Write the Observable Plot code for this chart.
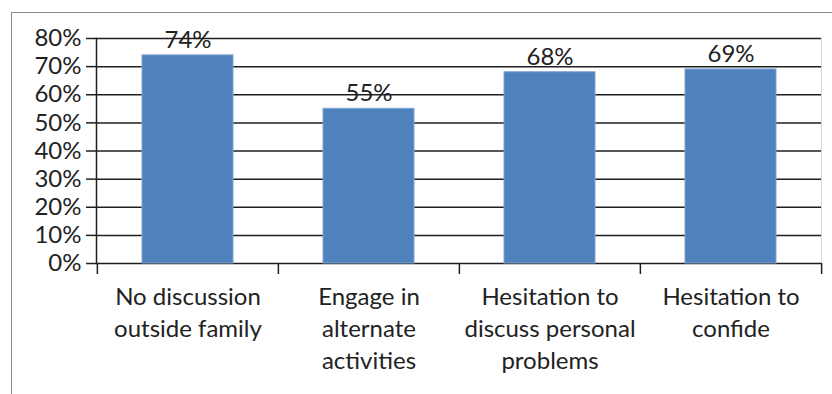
<!DOCTYPE html>
<html>
<head>
<meta charset="utf-8">
<script src="https://cdn.jsdelivr.net/npm/d3@7"></script>
<script src="https://cdn.jsdelivr.net/npm/@observablehq/plot@0.6"></script>
<style>
  body { margin: 0; background: #fff; }
  #chart { position: relative; width: 832px; height: 394px; overflow: hidden; background: #fff; }
  #chart .edge {
    position: absolute; left: 11px; top: 12px; width: 900px; height: 500px;
    border-left: 1px solid #8a8a8a; border-top: 1px solid #8a8a8a;
  }
  #chart svg { position: absolute; left: 0; top: 0; }
</style>
</head>
<body>
<div id="chart"><div class="edge"></div></div>
<script>
// Survey responses: share of respondents per coping behaviour
const categories = [
  "No discussion\noutside family",
  "Engage in\nalternate\nactivities",
  "Hesitation to\ndiscuss personal\nproblems",
  "Hesitation to\nconfide"
];
const values = [74, 55, 68, 69];
const yTicks = [0, 10, 20, 30, 40, 50, 60, 70, 80];

const rows = categories.map((category, i) => ({category, value: values[i]}));

const W = 832, H = 394;
const margin = {left: 96, right: 11, top: 38, bottom: 131};
const step = (W - margin.left - margin.right) / categories.length;
const ink = "#1f1f1f";
const textInk = "#222";
const fontSize = 24;

const chart = Plot.plot({
  width: W,
  height: H,
  marginLeft: margin.left,
  marginRight: margin.right,
  marginTop: margin.top,
  marginBottom: margin.bottom,
  style: {
    fontFamily: "Lato, 'Open Sans', sans-serif",
    fontSize: `${fontSize}px`,
    color: textInk,
    background: "transparent",
    overflow: "visible"
  },
  x: {domain: categories, paddingInner: 0.5, paddingOuter: 0.25, label: null},
  y: {domain: [0, 80], label: null},
  marks: [
    // horizontal gridlines behind the bars
    Plot.gridY(yTicks, {stroke: ink, strokeOpacity: 1, strokeWidth: 1.5}),
    Plot.frame({anchor: "right", stroke: "#d9d9d9"}),
    Plot.frame({anchor: "left", stroke: ink, strokeWidth: 1.5}),
    Plot.barY(rows, {x: "category", y: "value", fill: "#4f81bd", stroke: "#7ea3d3", strokeWidth: 1}),
    Plot.axisY(yTicks, {
      tickSize: 10, tickPadding: 5, tickFormat: d => `${d}%`,
      stroke: ink, strokeWidth: 1.5, fontSize, fill: textInk, label: null
    }),
    // category separators hanging below the baseline
    Plot.ruleX(categories, {x: d => d, y1: 0, y2: 0, dx: -step / 2, insetBottom: -11, stroke: ink, strokeWidth: 1.5}),
    Plot.ruleX(categories.slice(-1), {x: d => d, y1: 0, y2: 0, dx: step / 2, insetBottom: -11, stroke: ink, strokeWidth: 1.5}),
    Plot.axisX({tickSize: 0, tickPadding: 18, lineHeight: 1.35, fontSize, fill: textInk, label: null}),
    // value labels above each bar
    Plot.text(rows, {
      x: "category", y: "value", text: d => `${d.value}%`,
      dy: -7.5, lineAnchor: "bottom", fill: textInk, fontSize
    })
  ]
});

document.getElementById("chart").appendChild(chart);
</script>
</body>
</html>
